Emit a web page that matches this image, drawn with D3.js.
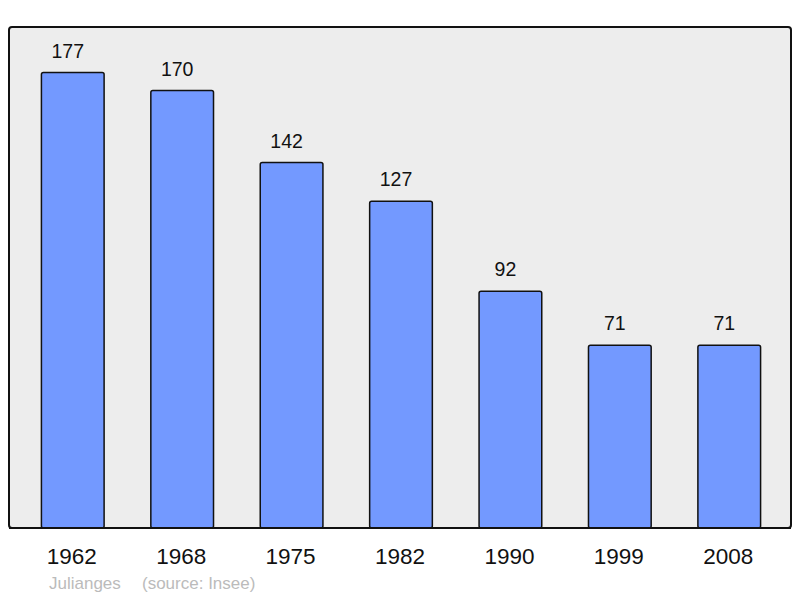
<!DOCTYPE html>
<html>
<head>
<meta charset="utf-8">
<script src="https://cdn.jsdelivr.net/npm/d3@7"></script>
<style>
  body { margin: 0; background: #fff; }
  text { font-family: "Liberation Sans", Arial, sans-serif; }
</style>
</head>
<body>
<svg id="chart"></svg>
<script>
// Data
const years = ["1962", "1968", "1975", "1982", "1990", "1999", "2008"];
const population = [177, 170, 142, 127, 92, 71, 71];
const footerName = "Julianges";
const footerSource = "(source: Insee)";

// Dimensions
const width = 800;
const height = 598;
const panel = { left: 9, top: 27, right: 791, bottom: 528 };

const svg = d3.select("#chart")
    .attr("width", width)
    .attr("height", height);

// Scales
const x = d3.scaleBand()
    .domain(years)
    .range([panel.left + 2, panel.right])
    .paddingInner(0.427)
    .paddingOuter(0.278);

const y = d3.scaleLinear()
    .domain([0, d3.max(population) * 1.1])
    .range([panel.bottom, panel.top]);

// Background panel
svg.append("rect")
    .attr("x", panel.left)
    .attr("y", panel.top)
    .attr("width", panel.right - panel.left)
    .attr("height", panel.bottom - panel.top)
    .attr("rx", 3)
    .attr("fill", "#ededed")
    .attr("stroke", "#111")
    .attr("stroke-width", 2);

const data = years.map((yr, i) => ({ year: yr, value: population[i] }));

// Bars
svg.selectAll("rect.bar")
    .data(data)
    .join("rect")
    .attr("class", "bar")
    .attr("x", d => x(d.year))
    .attr("y", d => y(d.value))
    .attr("width", x.bandwidth())
    .attr("height", d => y(0) - y(d.value))
    .attr("rx", 2)
    .attr("fill", "#7399ff")
    .attr("stroke", "#111")
    .attr("stroke-width", 1.5);

// Redraw bottom border over the bars
svg.append("line")
    .attr("x1", panel.left)
    .attr("x2", panel.right)
    .attr("y1", panel.bottom)
    .attr("y2", panel.bottom)
    .attr("stroke", "#111")
    .attr("stroke-width", 2);

// Value labels (sit a little left of bar centre)
svg.selectAll("text.value")
    .data(data)
    .join("text")
    .attr("class", "value")
    .attr("x", d => x(d.year) + x.bandwidth() / 2 - 5)
    .attr("y", d => y(d.value) - 15)
    .attr("text-anchor", "middle")
    .attr("font-size", 19.5)
    .attr("fill", "#111")
    .text(d => d.value);

// Year labels
svg.selectAll("text.year")
    .data(data)
    .join("text")
    .attr("class", "year")
    .attr("x", d => x(d.year) + x.bandwidth() / 2 - 1)
    .attr("y", 564)
    .attr("text-anchor", "middle")
    .attr("font-size", 22.5)
    .attr("fill", "#111")
    .text(d => d.year);

// Footer
svg.append("text")
    .attr("x", 49)
    .attr("y", 589)
    .attr("font-size", 17)
    .attr("fill", "#bbb")
    .text(footerName);

svg.append("text")
    .attr("x", 142)
    .attr("y", 589)
    .attr("font-size", 17)
    .attr("fill", "#bbb")
    .text(footerSource);
</script>
</body>
</html>
